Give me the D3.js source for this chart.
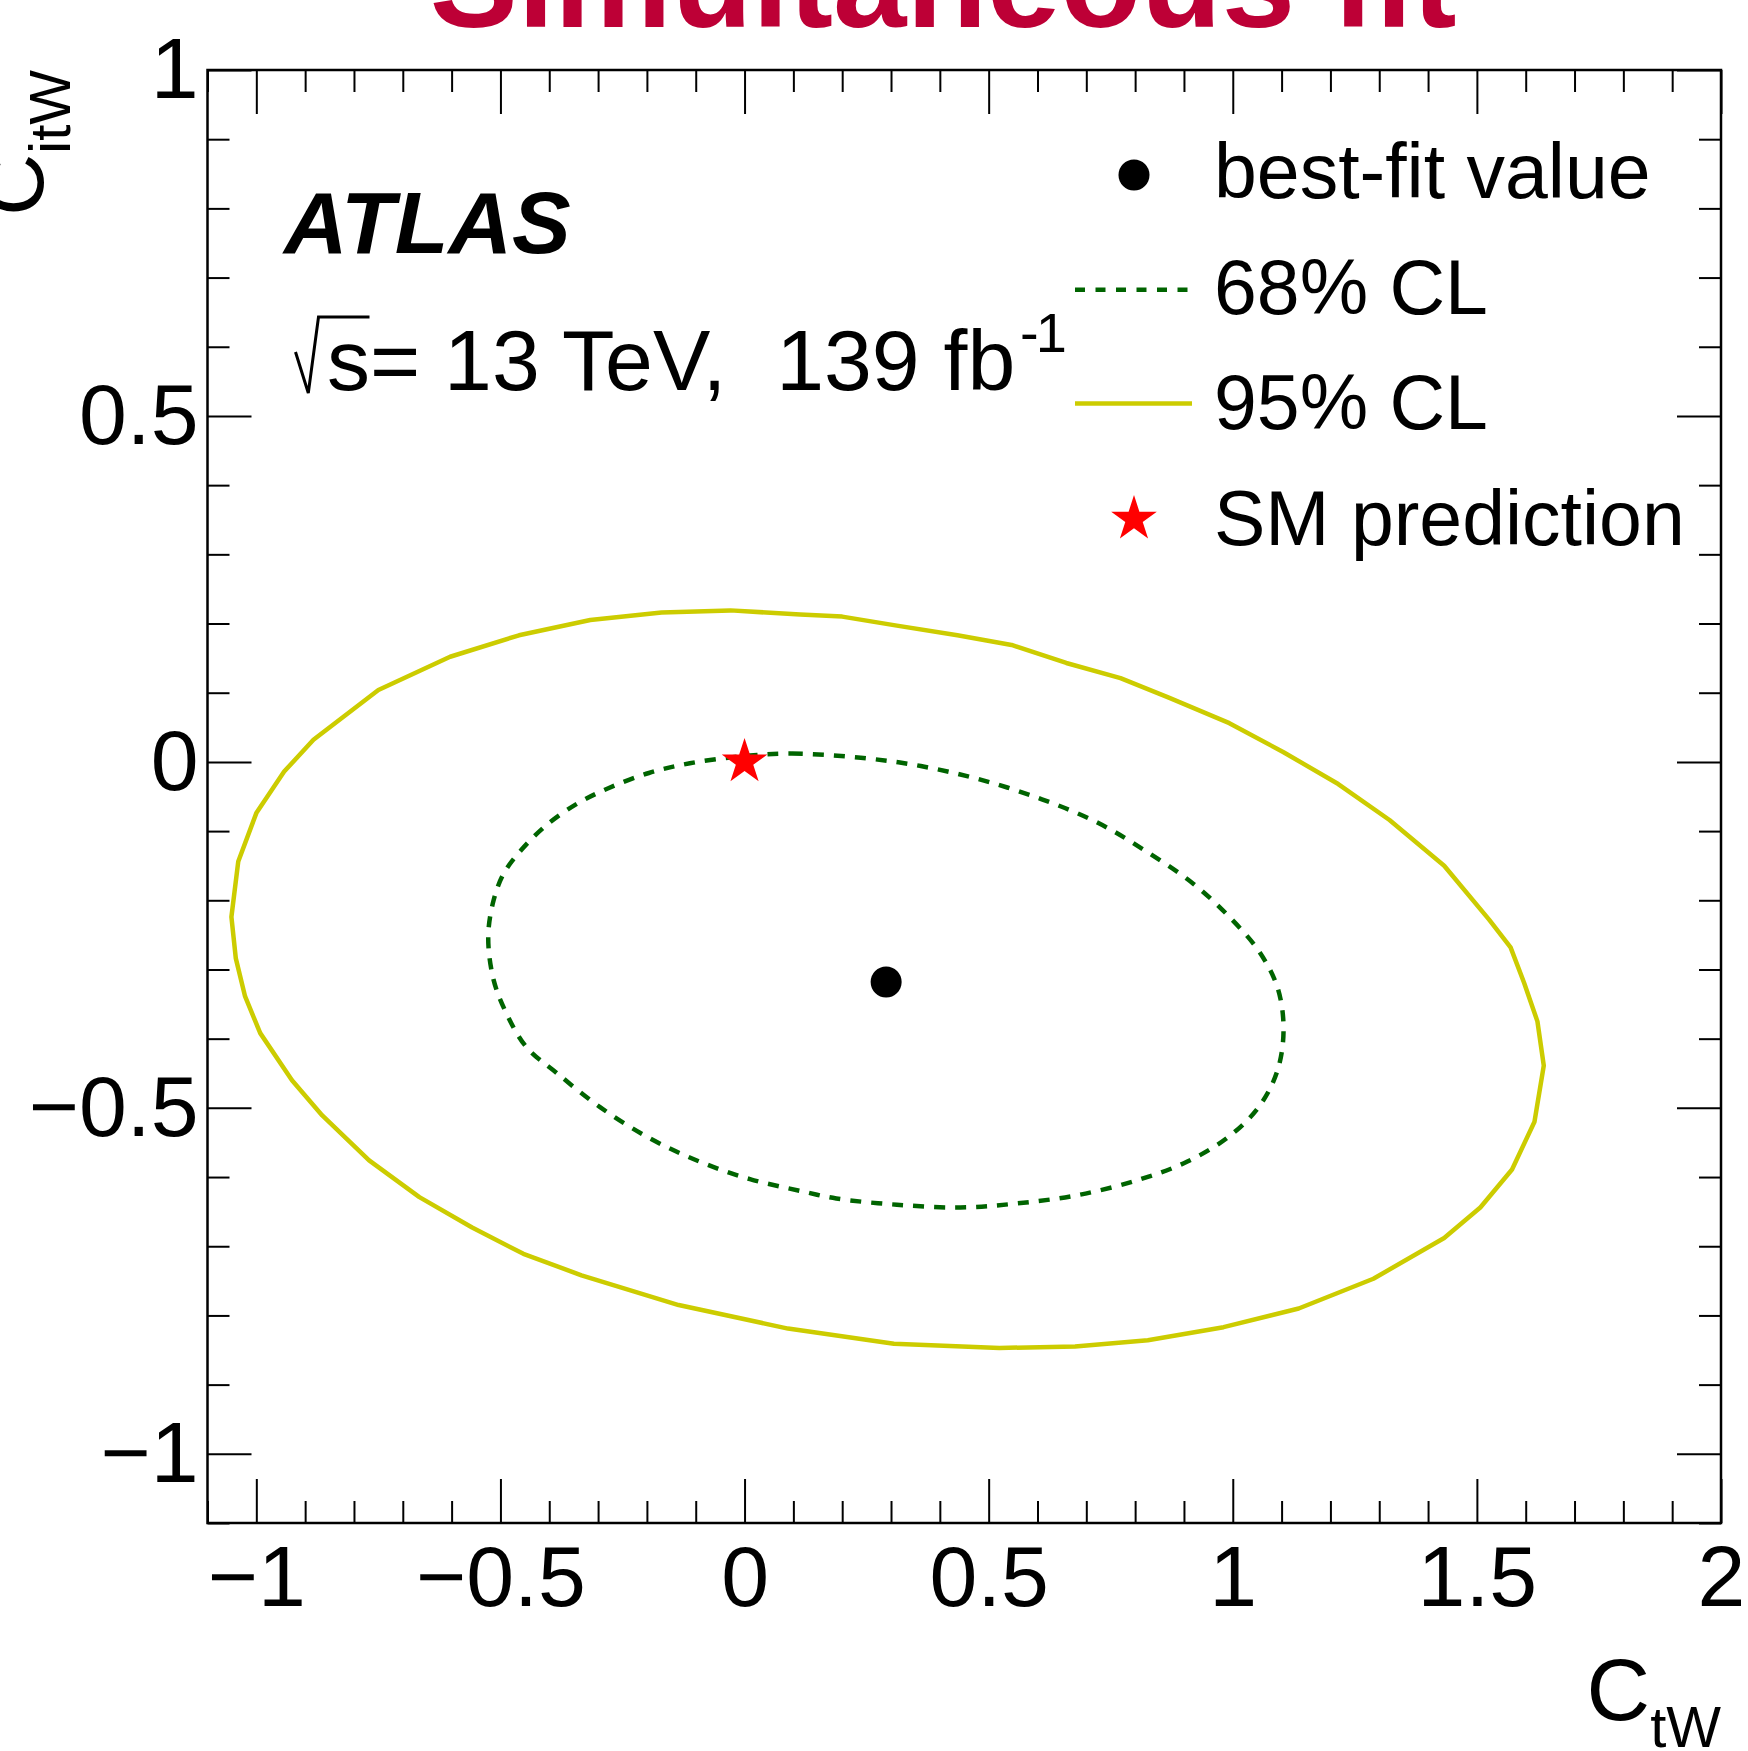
<!DOCTYPE html>
<html>
<head>
<meta charset="utf-8">
<script src="https://cdn.jsdelivr.net/npm/d3@7"></script>
<style>
body { margin: 0; background: #fff; }
svg { display: block; }
text { font-family: "Liberation Sans", Arial, Helvetica, sans-serif; }
</style>
</head>
<body>
<div id="chart"></div>
<script>
// 95% CL contour, C_tW (x) and C_itW (y)
var cl95_x = [-0.029, 0.114, 0.200, 0.312, 0.436, 0.547, 0.659, 0.770, 0.869, 0.993, 1.104, 1.216, 1.321, 1.433, 1.525, 1.569, 1.597, 1.624, 1.637, 1.618, 1.572, 1.507, 1.433, 1.288, 1.135, 0.981, 0.826, 0.677, 0.522, 0.306, 0.089, -0.135, -0.334, -0.453, -0.558, -0.666, -0.769, -0.865, -0.927, -0.992, -1.023, -1.042, -1.051, -1.037, -1.000, -0.943, -0.883, -0.750, -0.603, -0.462, -0.316, -0.170];
var cl95_y = [0.219, 0.213, 0.210, 0.197, 0.183, 0.169, 0.143, 0.121, 0.093, 0.056, 0.014, -0.032, -0.084, -0.150, -0.228, -0.268, -0.320, -0.375, -0.439, -0.520, -0.589, -0.644, -0.688, -0.747, -0.790, -0.817, -0.836, -0.845, -0.847, -0.841, -0.819, -0.785, -0.742, -0.711, -0.673, -0.629, -0.576, -0.511, -0.460, -0.392, -0.339, -0.284, -0.224, -0.144, -0.074, -0.014, 0.032, 0.104, 0.152, 0.183, 0.205, 0.216];

// 68% CL contour
var cl68_x = [-0.008, 0.097, 0.238, 0.361, 0.485, 0.609, 0.721, 0.820, 0.919, 0.993, 1.055, 1.092, 1.104, 1.092, 1.055, 0.993, 0.906, 0.807, 0.683, 0.560, 0.442, 0.312, 0.188, 0.114, 0.011, -0.091, -0.194, -0.296, -0.384, -0.447, -0.488, -0.514, -0.525, -0.514, -0.493, -0.457, -0.405, -0.342, -0.279, -0.196, -0.112];
var cl68_y = [0.008, 0.012, 0.006, -0.006, -0.026, -0.054, -0.087, -0.128, -0.176, -0.224, -0.275, -0.327, -0.386, -0.445, -0.497, -0.541, -0.578, -0.604, -0.626, -0.638, -0.644, -0.640, -0.631, -0.620, -0.603, -0.578, -0.544, -0.499, -0.450, -0.412, -0.363, -0.315, -0.253, -0.200, -0.161, -0.127, -0.091, -0.060, -0.038, -0.016, -0.002];

var best_fit = [0.29, -0.318];
var sm_point = [0, 0];

var x_major = [-1, -0.5, 0, 0.5, 1, 1.5, 2];
var y_major = [-1, -0.5, 0, 0.5, 1];
var legend_labels = ["best-fit value", "68% CL", "95% CL", "SM prediction"];

var width = 1748, height = 1751;
var frame = {left: 207.5, right: 1721, top: 70, bottom: 1523};

var x = d3.scaleLinear().domain([-1.1, 2]).range([frame.left, frame.right]);
var y = d3.scaleLinear().domain([-1.1, 1]).range([frame.bottom, frame.top]);

var x_minor = d3.range(-11, 21).filter(function(i) { return i % 5 != 0; }).map(function(i) { return i / 10; });
var y_minor = d3.range(-11, 11).filter(function(i) { return i % 5 != 0; }).map(function(i) { return i / 10; });

var svg = d3.select("#chart")
	.append("svg")
	.attr("width", width)
	.attr("height", height);

var fmt = d3.format("~g");

// axes: ticks point inwards, on all four sides
function style_axis(g, labels) {
	g.select(".domain").remove();
	g.selectAll("line").attr("stroke", "#000").attr("stroke-width", 2);
	g.selectAll("text")
		.attr("font-family", "'Liberation Sans', Arial, sans-serif")
		.attr("font-size", 86)
		.attr("fill", "#000");
	if (!labels) g.selectAll("text").remove();
}

svg.append("g")
	.attr("transform", "translate(0," + frame.bottom + ")")
	.call(d3.axisBottom(x).tickValues(x_major).tickFormat(fmt).tickSizeInner(-44).tickSizeOuter(0).tickPadding(22))
	.call(style_axis, true);
svg.append("g")
	.attr("transform", "translate(0," + frame.bottom + ")")
	.call(d3.axisBottom(x).tickValues(x_minor).tickSizeInner(-22).tickSizeOuter(0))
	.call(style_axis, false);
svg.append("g")
	.attr("transform", "translate(0," + frame.top + ")")
	.call(d3.axisTop(x).tickValues(x_major).tickSizeInner(-44).tickSizeOuter(0))
	.call(style_axis, false);
svg.append("g")
	.attr("transform", "translate(0," + frame.top + ")")
	.call(d3.axisTop(x).tickValues(x_minor).tickSizeInner(-22).tickSizeOuter(0))
	.call(style_axis, false);

svg.append("g")
	.attr("transform", "translate(" + frame.left + ",0)")
	.call(d3.axisLeft(y).tickValues(y_major).tickFormat(fmt).tickSizeInner(-44).tickSizeOuter(0).tickPadding(9))
	.call(style_axis, true);
svg.append("g")
	.attr("transform", "translate(" + frame.left + ",0)")
	.call(d3.axisLeft(y).tickValues(y_minor).tickSizeInner(-22).tickSizeOuter(0))
	.call(style_axis, false);
svg.append("g")
	.attr("transform", "translate(" + frame.right + ",0)")
	.call(d3.axisRight(y).tickValues(y_major).tickSizeInner(-44).tickSizeOuter(0))
	.call(style_axis, false);
svg.append("g")
	.attr("transform", "translate(" + frame.right + ",0)")
	.call(d3.axisRight(y).tickValues(y_minor).tickSizeInner(-22).tickSizeOuter(0))
	.call(style_axis, false);

svg.append("rect")
	.attr("x", frame.left)
	.attr("y", frame.top)
	.attr("width", frame.right - frame.left)
	.attr("height", frame.bottom - frame.top)
	.attr("fill", "none")
	.attr("stroke", "#000")
	.attr("stroke-width", 2.5);

// contours
var cl95 = d3.zip(cl95_x, cl95_y);
var cl68 = d3.zip(cl68_x, cl68_y);

var line95 = d3.line()
	.x(function(d) { return x(d[0]); })
	.y(function(d) { return y(d[1]); })
	.curve(d3.curveLinearClosed);
var line68 = d3.line()
	.x(function(d) { return x(d[0]); })
	.y(function(d) { return y(d[1]); })
	.curve(d3.curveCatmullRomClosed);

svg.append("path")
	.attr("d", line95(cl95))
	.attr("fill", "none")
	.attr("stroke", "#cccc00")
	.attr("stroke-width", 4.5)
	.attr("stroke-linejoin", "round");

svg.append("path")
	.attr("d", line68(cl68))
	.attr("fill", "none")
	.attr("stroke", "#006400")
	.attr("stroke-width", 4.5)
	.attr("stroke-dasharray", "11,10");

svg.append("circle")
	.attr("cx", x(best_fit[0]))
	.attr("cy", y(best_fit[1]))
	.attr("r", 15.5)
	.attr("fill", "#000");

var star = d3.symbol().type(d3.symbolStar).size(646);
svg.append("path")
	.attr("d", star())
	.attr("transform", "translate(" + x(sm_point[0]) + "," + y(sm_point[1]) + ")")
	.attr("fill", "#ff0000");

// legend
var leg_x = 1214, leg_y0 = 198, leg_dy = 115.7, mark_x = 1134;
var legend = svg.selectAll(".legend")
	.data(legend_labels)
	.enter().append("g")
	.attr("class", "legend")
	.attr("transform", function(d, i) { return "translate(0," + (leg_y0 + i * leg_dy) + ")"; });

legend.append("text")
	.attr("x", leg_x)
	.attr("font-size", 77)
	.text(function(d) { return d; });

legend.filter(function(d, i) { return i == 0; }).append("circle")
	.attr("cx", mark_x).attr("cy", -23).attr("r", 15.5).attr("fill", "#000");
legend.filter(function(d, i) { return i == 1; }).append("line")
	.attr("x1", 1075).attr("x2", 1190).attr("y1", -24).attr("y2", -24)
	.attr("stroke", "#006400").attr("stroke-width", 4.5).attr("stroke-dasharray", "10,10.5");
legend.filter(function(d, i) { return i == 2; }).append("line")
	.attr("x1", 1075).attr("x2", 1192).attr("y1", -26).attr("y2", -26)
	.attr("stroke", "#cccc00").attr("stroke-width", 4.5);
legend.filter(function(d, i) { return i == 3; }).append("path")
	.attr("d", star())
	.attr("transform", "translate(" + mark_x + ",-26)")
	.attr("fill", "#ff0000");

// ATLAS label
svg.append("text")
	.attr("x", 284)
	.attr("y", 253)
	.attr("font-size", 88)
	.attr("font-weight", "bold")
	.attr("font-style", "italic")
	.text("ATLAS");

svg.append("path")
	.attr("d", "M295.5,352 L308.3,393 L318.5,317 L369.5,317")
	.attr("fill", "none")
	.attr("stroke", "#000")
	.attr("stroke-width", 3);
var lumi = svg.append("text")
	.attr("x", 327)
	.attr("y", 390)
	.attr("font-size", 86);
lumi.append("tspan").text("s= 13 TeV,");
lumi.append("tspan").attr("dx", 26).text(" 139 fb");
svg.append("text")
	.attr("x", 1020)
	.attr("y", 352)
	.attr("font-size", 56)
	.attr("letter-spacing", -3)
	.text("-1");

// axis titles
svg.append("text")
	.attr("x", frame.right)
	.attr("y", 1720)
	.attr("text-anchor", "end")
	.attr("font-size", 88)
	.text("C")
	.append("tspan")
	.attr("font-size", 58)
	.attr("dy", 27)
	.text("tW");

svg.append("text")
	.attr("transform", "translate(43," + frame.top + ") rotate(-90)")
	.attr("text-anchor", "end")
	.attr("font-size", 86)
	.text("C")
	.append("tspan")
	.attr("font-size", 58)
	.attr("dy", 27)
	.text("itW");

// title, cut off at the top edge
svg.append("text")
	.attr("x", 943)
	.attr("y", 27)
	.attr("text-anchor", "middle")
	.attr("font-size", 132)
	.attr("font-weight", "bold")
	.attr("fill", "#bd0036")
	.text("Simultaneous fit");
</script>
</body>
</html>
